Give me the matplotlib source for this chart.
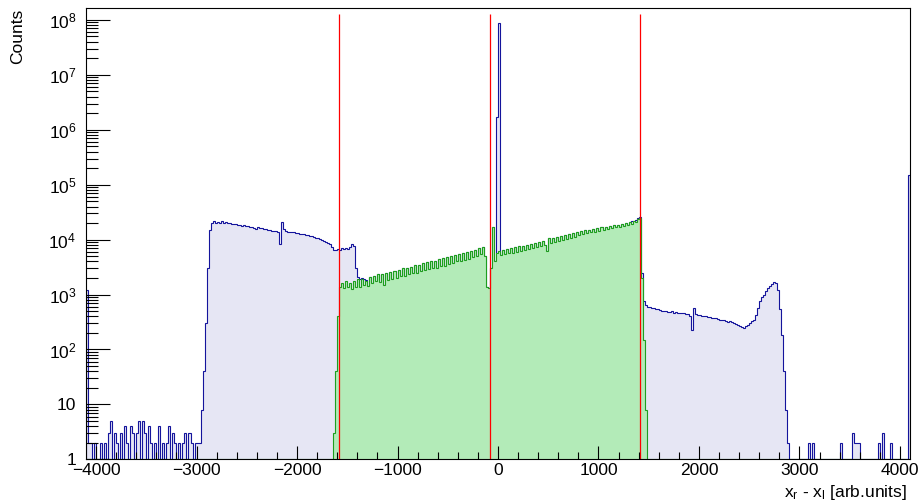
import numpy as np
import matplotlib
matplotlib.use("Agg")
import matplotlib.pyplot as plt
from matplotlib.ticker import FixedLocator, LogLocator, NullFormatter

plt.rcParams['font.family'] = ['Liberation Sans', 'DejaVu Sans']
plt.rcParams['mathtext.fontset'] = 'custom'
plt.rcParams['mathtext.rm'] = 'Liberation Sans'
plt.rcParams['mathtext.it'] = 'Liberation Sans:italic'

# histogram binning (20 units per bin)
x_lo, x_hi, bin_w = -4100, 4100, 20

# blue: sparse left tail, starting at -4100
blue_tail_left = [1200, 2, 2, 0, 2, 0, 0, 2, 0, 2,
                  0, 3, 5, 0, 3, 2, 0, 3, 0, 4,
                  2, 0, 4, 3, 0, 3, 5, 0, 5, 3,
                  0, 4, 2, 0, 2, 0, 4, 0, 2, 0,
                  2, 4, 0, 3, 2, 0, 2, 0, 2, 3,
                  0, 3, 2, 0, 2, 2]

# blue: left body, starting at -2980
blue_body_left = [2, 8, 40, 300, 3000, 15000, 20000, 21500, 20500, 21000,
                  20000, 21500, 20500, 21000, 20000, 20500, 19500, 19000, 19500, 18500,
                  18800, 18000, 18200, 17500, 17800, 17000, 17300, 16500, 15500, 16800,
                  16200, 16000, 15600, 15400, 15000, 14800, 14600, 14400, 14200, 14000,
                  8500, 21000, 15500, 14500, 14000, 13800, 13600, 13500, 13200, 13000,
                  12900, 12700, 12500, 12300, 12000, 11800, 11600, 11200, 10800, 10500,
                  10200, 9800, 9300, 9000, 8800, 8500, 7200, 6500, 6500, 6800,
                  6600, 7000, 6800, 7100, 6700, 7400, 8200, 7500, 3000, 2100,
                  1950, 2000, 1900, 1850]

# blue: peak around zero, starting at -20
blue_peak = [1.7e6, 8.7e7]

# blue: right body, starting at 1300
blue_body_right = [21000, 21500, 22000, 23000, 24500, 26000, 2500, 750,
                   650, 600, 590, 570, 560, 540, 545, 520, 510, 505,
                   500, 490, 480, 495, 470, 480, 470, 465, 460, 455,
                   445, 440, 400, 230, 560, 440, 430, 420, 410, 405,
                   400, 390, 385, 380, 375, 370, 360, 350, 345, 340,
                   330, 320, 330, 310, 300, 290, 280, 270, 260, 245,
                   270, 280, 300, 330, 350, 420, 560, 750, 900, 1000,
                   1150, 1300, 1450, 1550, 1700, 1600, 1200, 550, 180, 40,
                   8, 2]

# blue: sparse right tail
blue_tail_right_x = [3080, 3120, 3400, 3520, 3540, 3560, 3580, 3780, 3820, 3900, 4080]
blue_tail_right_n = [2, 2, 2, 3, 2, 2, 2, 2, 3, 2, 150000]

# green (gated), starting at -1660
green_counts = [0, 3, 40, 400, 1400,
                1650, 1300, 1750, 1350, 1600, 1250, 1800, 1400, 1900, 1350, 1950, 1500, 1750, 1450,
                2050, 1600, 2200, 1750, 2350, 1700, 2400, 1500, 2500, 1850, 2550, 1950, 2700, 2000, 2750, 2150,
                3000, 2200, 3100, 2400, 3200, 2450, 3450, 2500, 3500, 2700, 3700, 2750,
                3850, 2900, 4050, 3100, 4150, 3050, 4400, 3300, 4550, 3350, 4800, 3600,
                5000, 3800, 5200, 4000, 5500, 4100, 5700, 4300, 6000, 4500, 6200, 4800, 6500, 5000, 7000, 5500, 7400,
                5000, 1400, 1300, 3000, 17000, 4000, 5600,
                6200, 5300, 6500, 5400, 6700, 5600, 6900, 5800, 7200, 5900,
                7500, 6300, 7700, 6500, 8100, 6800, 8300, 6900, 8600, 7200,
                9000, 7500, 9300, 7900, 6300, 10500, 8700, 10600, 9100, 11100,
                9500, 11600, 9900, 12100, 10300, 12600, 10800, 13100, 11300, 13600,
                12000, 14200, 12500, 14700, 13000, 15200, 13500, 15700, 14000, 16300,
                14600, 16800, 15100, 17300, 15600, 17800, 16100, 18300, 16700, 18800,
                17300, 19400, 17800, 20000, 18500, 21000, 19500, 22000, 21000, 24000,
                25000, 2000, 150, 8]

# red cut lines
cut_x = [-1580, -80, 1415]
cut_top = 1.3e8

edges = np.arange(x_lo, x_hi + bin_w, bin_w)
nbins = len(edges) - 1


def place(arr, start, values):
    i = (start - x_lo) // bin_w
    arr[i:i + len(values)] = values


green = np.zeros(nbins)
place(green, -1660, green_counts)

blue_own = np.zeros(nbins)
place(blue_own, x_lo, blue_tail_left)
place(blue_own, -2980, blue_body_left)
place(blue_own, -20, blue_peak)
place(blue_own, 1300, blue_body_right)
for x, n in zip(blue_tail_right_x, blue_tail_right_n):
    place(blue_own, x, [n])
blue = np.maximum(blue_own, green)

fig = plt.figure(figsize=(9.2, 5.04), dpi=100)
ax = fig.add_axes([86 / 920, 1 - 459.3 / 504, 824 / 920, 451 / 504])

blue_fill, blue_line = '#e6e6f4', '#14149c'
green_fill, green_line = '#b3ebb8', '#1e9e1e'

ax.stairs(np.clip(blue, 1, None), edges, baseline=1, fill=True, color=blue_fill, lw=0, zorder=1)
ax.stairs(np.clip(blue, 1, None), edges, baseline=1, color=blue_line, lw=0.8, zorder=1.1)
ax.stairs(np.clip(green, 1, None), edges, baseline=1, fill=True, color=green_fill, lw=0, zorder=1.2)
ax.stairs(np.clip(green, 1, None), edges, baseline=1, color=green_line, lw=0.8, zorder=1.3)
ax.vlines(cut_x, 1, cut_top, colors='#ff0000', lw=0.9, zorder=1.4)

ax.set_xlim(x_lo, x_hi)
ax.set_yscale('log')
ax.set_ylim(1, 1.63e8)

ax.xaxis.set_major_locator(FixedLocator(np.arange(-4000, 4001, 1000)))
ax.xaxis.set_minor_locator(FixedLocator(np.arange(-4000, 4101, 200)))
ax.set_xticklabels([f'\u2212{abs(v)}' if v < 0 else str(v) for v in range(-4000, 4001, 1000)])

ax.yaxis.set_major_locator(FixedLocator([10.0 ** k for k in range(9)]))
ax.yaxis.set_minor_locator(LogLocator(base=10, subs=np.arange(2, 10), numticks=20))
ax.yaxis.set_minor_formatter(NullFormatter())
ylabels = ['1', '10'] + [r'$\mathregular{10^{%d}}$' % k for k in range(2, 9)]
ax.set_yticklabels(ylabels)

ax.tick_params(axis='both', which='both', direction='in', width=0.8, colors='black',
               labelsize=12.5, top=False, right=False)
ax.tick_params(axis='x', which='major', length=9.5, pad=3)
ax.tick_params(axis='x', which='minor', length=5)
ax.tick_params(axis='y', which='major', length=17, pad=7)
ax.tick_params(axis='y', which='minor', length=8.5)

for s in ax.spines.values():
    s.set_linewidth(0.8)
    s.set_color('black')

fig.text(17.5 / 920, 1 - 9 / 504, 'Counts', rotation=90, ha='center', va='top', fontsize=12.5)
fig.text(907 / 920, 1 - 492 / 504, r'x$_\mathregular{r}$ - x$_\mathregular{l}$ [arb.units]',
         ha='right', va='center', fontsize=12.5)

fig.savefig('out.png', dpi=100)
